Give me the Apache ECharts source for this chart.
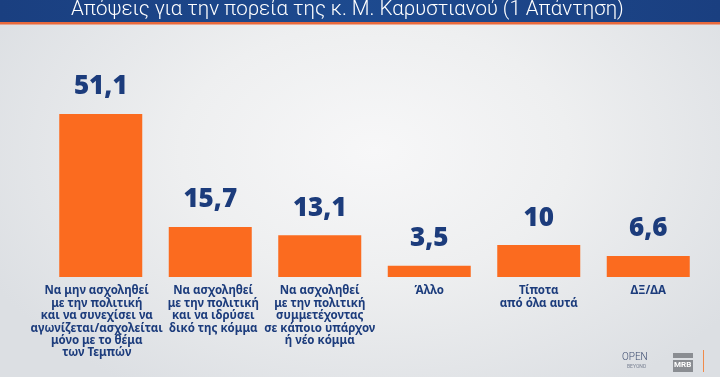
<!DOCTYPE html>
<html>
<head>
<meta charset="utf-8">
<script src="https://cdn.jsdelivr.net/npm/echarts@6/dist/echarts.min.js"></script>
<style>
html,body{margin:0;padding:0;width:720px;height:377px;overflow:hidden;}
body{background:radial-gradient(ellipse 60% 75% at 52% 40%, #f7f7f8 0%, #eeeff0 45%, #dcdfe3 100%);}
#chart{width:720px;height:377px;}
</style>
</head>
<body>
<div id="chart"></div>
<script>
const titleText = 'Απόψεις για την πορεία της κ. Μ. Καρυστιανού (1 Απάντηση)';
const categories = [
  'Να μην ασχοληθεί\nμε την πολιτική\nκαι να συνεχίσει να\nαγωνίζεται/ασχολείται\nμόνο με το θέμα\nτων Τεμπών',
  'Να ασχοληθεί\nμε την πολιτική\nκαι να ιδρύσει\nδικό της κόμμα',
  'Να ασχοληθεί\nμε την πολιτική\nσυμμετέχοντας\nσε κάποιο υπάρχον\nή νέο κόμμα',
  'Άλλο',
  'Τίποτα\nαπό όλα αυτά',
  'ΔΞ/ΔΑ'
];
const values = [51.1, 15.7, 13.1, 3.5, 10, 6.6];

const chart = echarts.init(document.getElementById('chart'), null, {renderer: 'canvas'});
const navy = '#1c3c7c';
const axisData = categories.map((c, i) => i === 0
  ? {value: c, textStyle: {padding: [0, 8, 0, 0]}}
  : (i === 1 ? {value: c, textStyle: {padding: [0, 0, 0, 6]}} : c));
chart.setOption({
  backgroundColor: 'transparent',
  animation: false,
  grid: {left: 46, right: 17, top: 114, bottom: 100, containLabel: false},
  xAxis: {
    type: 'category',
    data: axisData,
    axisLine: {show: false},
    axisTick: {show: false},
    axisLabel: {
      interval: 0,
      margin: 8,
      color: navy,
      fontFamily: 'Noto Sans',
      fontWeight: 'bold',
      fontSize: 11.5,
      lineHeight: 12.4,
      align: 'center',
      verticalAlign: 'top'
    }
  },
  yAxis: {
    type: 'value',
    min: 0,
    max: 'dataMax',
    show: false,
    splitLine: {show: false}
  },
  series: [{
    type: 'bar',
    data: values,
    barWidth: 83,
    itemStyle: {color: '#fb6b1f'},
    label: {
      show: true,
      position: 'top',
      distance: 14,
      color: navy,
      fontFamily: 'Open Sans',
      fontWeight: 800,
      fontSize: 26,
      formatter: p => String(p.value).replace('.', ',')
    }
  }],
  graphic: [
    {type: 'rect', left: 0, top: 0, shape: {width: 720, height: 22},
     style: {fill: new echarts.graphic.LinearGradient(0, 0, 1, 0, [
       {offset: 0, color: '#1a3f80'}, {offset: 0.5, color: '#1d4a8f'}, {offset: 1, color: '#1a3f80'}])}},
    {type: 'rect', left: 0, top: 22, shape: {width: 720, height: 2.5}, style: {fill: '#e8693c'}},
    {type: 'text', left: 71, top: -1, style: {
      text: titleText, fill: '#ffffff', fontFamily: 'Roboto', fontWeight: 300, fontSize: 20.5
    }},
    {type: 'text', left: 622, top: 352, style: {text: 'OPEN', fill: '#3b4a6e', fontFamily: 'Roboto', fontWeight: 300, fontSize: 10, letterSpacing: 3}},
    {type: 'text', left: 627, top: 364, style: {text: 'BEYOND', fill: '#7a8294', fontFamily: 'Roboto', fontSize: 5, letterSpacing: 1}},
    {type: 'rect', left: 673, top: 353, shape: {width: 20, height: 5}, style: {fill: '#8a8d92'}},
    {type: 'rect', left: 673, top: 360, shape: {width: 20, height: 12}, style: {fill: '#8a8d92'}},
    {type: 'text', left: 674, top: 361, style: {text: 'MRB', fill: '#ffffff', fontFamily: 'Roboto', fontWeight: 'bold', fontSize: 8}},
    {type: 'rect', left: 703, top: 350, shape: {width: 1, height: 22}, style: {fill: '#f08a4a'}}
  ]
});
</script>
</body>
</html>
